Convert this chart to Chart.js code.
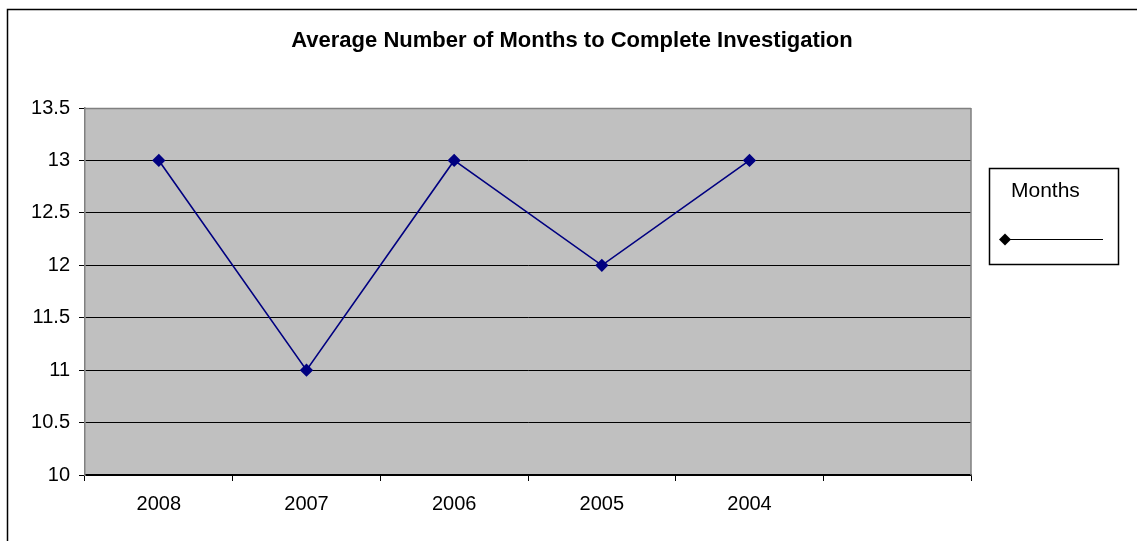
<!DOCTYPE html>
<html>
<head>
<meta charset="utf-8">
<script src="https://cdn.jsdelivr.net/npm/chart.js@4/dist/chart.umd.min.js"></script>
<style>
  html, body { margin:0; padding:0; background:#fff; }
  #wrap { width:1137px; height:541px; position:relative; }
</style>
</head>
<body>
<div id="wrap"><canvas id="chart"></canvas></div>
<script>
const TITLE  = "Average Number of Months to Complete Investigation";
const YEARS  = ["2008", "2007", "2006", "2005", "2004", ""];
const MONTHS = [13, 11, 13, 12, 13, null];
const SERIES = "Months";

const FONT = "'Liberation Sans', Arial, sans-serif";
const NAVY = "#000080";

function $(id){ return document.getElementById(id); }

// 灰色の背景と枠
const plotBg = {
  id: "plotBg",
  beforeDraw(c){
    const a = c.chartArea, g = c.ctx;
    g.save();
    g.fillStyle = "#c0c0c0";
    g.fillRect(a.left, a.top, a.right - a.left, a.bottom - a.top);
    g.restore();
  },
  afterDraw(c){
    const a = c.chartArea, g = c.ctx;
    g.save();
    // plot frame
    g.strokeStyle = "#808080";
    g.lineWidth = 1.5;
    g.beginPath();
    g.moveTo(a.left, a.top + 0.5); g.lineTo(a.right, a.top + 0.5);
    g.moveTo(a.right, a.top); g.lineTo(a.right, a.bottom);
    g.stroke();
    // outer chart frame (top + left only are visible)
    g.strokeStyle = "#000";
    g.lineWidth = 1.5;
    g.beginPath();
    g.moveTo(7.5, c.height + 5); g.lineTo(7.5, 9.5); g.lineTo(c.width + 5, 9.5);
    g.stroke();
    g.restore();
  }
};

// 凡例（Excel風：文字の下に線とマーカー）
const boxLegend = {
  id: "boxLegend",
  afterDraw(c){
    const g = c.ctx;
    const x = 989, y = 168, w = 129, h = 96;
    g.save();
    g.strokeStyle = "#000";
    g.lineWidth = 1.5;
    g.strokeRect(x + 0.5, y + 0.5, w, h);
    g.fillStyle = "#000";
    g.font = "21px " + FONT;
    g.textBaseline = "middle";
    g.fillText(c.data.datasets[0].label, x + 22, y + 23);
    g.lineWidth = 1.2;
    g.beginPath();
    g.moveTo(x + 16, y + 71.5); g.lineTo(x + 114, y + 71.5);
    g.stroke();
    const mx = x + 16, my = y + 71.5, r = 6;
    g.beginPath();
    g.moveTo(mx, my - r); g.lineTo(mx + r, my); g.lineTo(mx, my + r); g.lineTo(mx - r, my);
    g.closePath();
    g.fill();
    g.restore();
  }
};

const chart = new Chart($("chart").getContext("2d"), {
  type: "line",
  data: {
    labels: YEARS,
    datasets: [{
      label: SERIES,
      data: MONTHS,
      yAxisID: "y",
      borderColor: NAVY,
      backgroundColor: NAVY,
      borderWidth: 1.6,
      tension: 0,
      pointStyle: "rectRot",
      pointRadius: 5.5,
      pointHoverRadius: 5.5,
      pointBackgroundColor: NAVY,
      pointBorderColor: NAVY,
      spanGaps: false
    }]
  },
  options: {
    responsive: true,
    maintainAspectRatio: false,
    animation: false,
    events: [],
    layout: { padding: { left: 7, right: 0, top: 0, bottom: 0 } },
    plugins: {
      legend: { display: false },
      tooltip: { enabled: false },
      title: {
        display: true,
        text: TITLE,
        color: "#000",
        font: { family: FONT, size: 22, weight: "bold", lineHeight: 1.2 },
        padding: { top: 28, bottom: 53.6 }
      }
    },
    scales: {
      x: {
        type: "category",
        offset: true,
        grid: {
          offset: true,
          drawOnChartArea: false,
          drawTicks: true,
          tickLength: 6,
          color: "#000",
          tickColor: "#000"
        },
        border: { display: true, color: "#000", width: 1.5 },
        ticks: {
          color: "#000",
          font: { family: FONT, size: 20 },
          padding: 11,
          maxRotation: 0,
          autoSkip: false
        },
        afterFit(s){ s.height = 66; }
      },
      y: {
        min: 10,
        max: 13.5,
        grid: {
          color: "#000",
          tickColor: "#000",
          lineWidth: 1,
          tickLength: 6,
          drawTicks: true
        },
        border: { display: true, color: "#808080", width: 1.5 },
        ticks: {
          stepSize: 0.5,
          color: "#000",
          font: { family: FONT, size: 20 },
          padding: 9,
          callback: v => String(v)
        },
        afterFit(s){ s.width = 78; }
      },
      // 凡例用の右側の余白（表示なし）
      side: {
        position: "right",
        display: true,
        grid: { drawOnChartArea: false, drawTicks: false },
        border: { display: false },
        ticks: { display: false },
        afterFit(s){ s.width = 166; }
      }
    }
  },
  plugins: [plotBg, boxLegend]
});
</script>
</body>
</html>
